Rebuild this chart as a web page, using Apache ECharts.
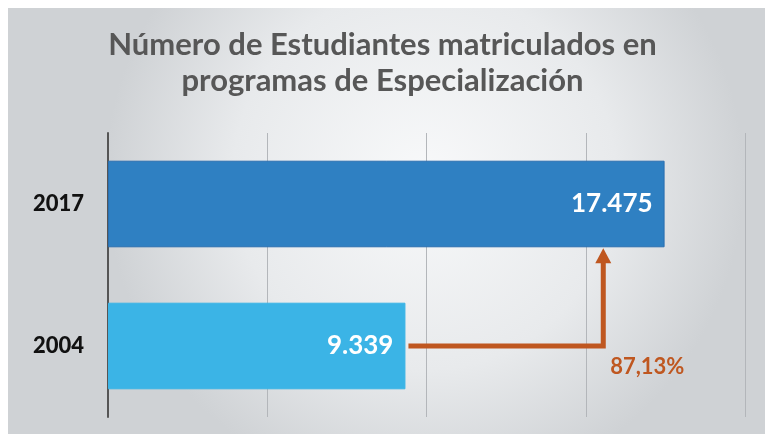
<!DOCTYPE html>
<html>
<head>
<meta charset="utf-8">
<script src="https://cdn.jsdelivr.net/npm/echarts@6/dist/echarts.min.js"></script>
<style>
    html, body { margin: 0; background: #ffffff; }
    #chart { width: 765px; height: 434px; }
</style>
</head>
<body>
<div id="chart"></div>
<script>
// Datos del gráfico
const years = ['2004', '2017'];
const students = [9339, 17475];
const valueLabels = ['9.339', '17.475'];
const barColors = ['#3bb4e6', '#2f80c2'];
const growthLabel = '87,13%';
const arrowTurn = 15550; // punto donde la flecha sube hacia 2017
const axisMax = 20000;
const axisStep = 5000;

function loadChart() {
    const chart = echarts.init(document.getElementById('chart'));

    const bars = students.map((value, i) => ({
        value: value,
        itemStyle: {
            color: barColors[i],
            borderColor: i === 1 ? '#2a6fb0' : barColors[i],
            borderWidth: 1
        },
        label: { formatter: valueLabels[i] }
    }));

    chart.setOption({
        backgroundColor: '#ffffff',
        graphic: [{
            type: 'rect',
            z: -10,
            silent: true,
            shape: { x: 8, y: 8, width: 757, height: 426 },
            style: {
                fill: new echarts.graphic.RadialGradient(0.55, 0.4, 0.75, [
                    { offset: 0, color: '#f8f9fa' },
                    { offset: 0.6, color: '#e8eaec' },
                    { offset: 1, color: '#cfd2d5' }
                ])
            }
        }],
        title: {
            text: 'Número de Estudiantes matriculados en\nprogramas de Especialización',
            left: 'center',
            top: 22,
            textStyle: {
                fontFamily: 'Lato',
                fontWeight: 'bold',
                fontSize: 31,
                lineHeight: 36,
                color: '#575757'
            }
        },
        grid: {
            left: 108,
            right: 20,
            top: 133,
            bottom: 17
        },
        xAxis: {
            type: 'value',
            min: 0,
            max: axisMax,
            interval: axisStep,
            axisLabel: { show: false },
            axisLine: { show: false },
            axisTick: { show: false },
            splitLine: { lineStyle: { color: '#b3b6ba', width: 1 } }
        },
        yAxis: {
            type: 'category',
            data: years,
            axisTick: { show: false },
            axisLine: { lineStyle: { color: '#555555', width: 2 } },
            axisLabel: {
                margin: 24,
                fontFamily: 'Lato',
                fontWeight: 900,
                fontSize: 22,
                color: '#111111'
            }
        },
        series: [{
            name: 'Estudiantes',
            type: 'bar',
            barWidth: '61%',
            data: bars,
            label: {
                show: true,
                position: 'insideRight',
                distance: 12,
                fontFamily: 'Lato',
                fontWeight: 'bold',
                fontSize: 26,
                color: '#ffffff'
            }
        }, {
            name: 'Crecimiento',
            type: 'custom',
            z: 5,
            data: [[students[0], arrowTurn]],
            encode: { x: [0, 1] },
            renderItem: (params, api) => {
                const start = api.coord([api.value(0), 0]);
                const corner = api.coord([api.value(1), 0]);
                const top = api.coord([api.value(1), 1]);
                const band = api.size([0, 1])[1];
                const tipY = top[1] + band * 0.61 / 2 + 1;
                const color = '#bf5720';
                return {
                    type: 'group',
                    children: [{
                        type: 'polyline',
                        shape: { points: [[start[0] + 3, corner[1]], corner, [corner[0], tipY + 13]] },
                        style: { stroke: color, lineWidth: 5, fill: null }
                    }, {
                        type: 'polygon',
                        shape: { points: [[corner[0] - 8, tipY + 15], [corner[0] + 8, tipY + 15], [corner[0], tipY]] },
                        style: { fill: color }
                    }, {
                        type: 'text',
                        style: {
                            text: growthLabel,
                            x: corner[0] + 44,
                            y: corner[1] + 21,
                            align: 'center',
                            verticalAlign: 'middle',
                            fontFamily: 'Lato',
                            fontWeight: 'bold',
                            fontSize: 22,
                            fill: color
                        }
                    }]
                };
            }
        }]
    });

    window.addEventListener('resize', () => chart.resize());
}

document.addEventListener('DOMContentLoaded', loadChart);
</script>
</body>
</html>
